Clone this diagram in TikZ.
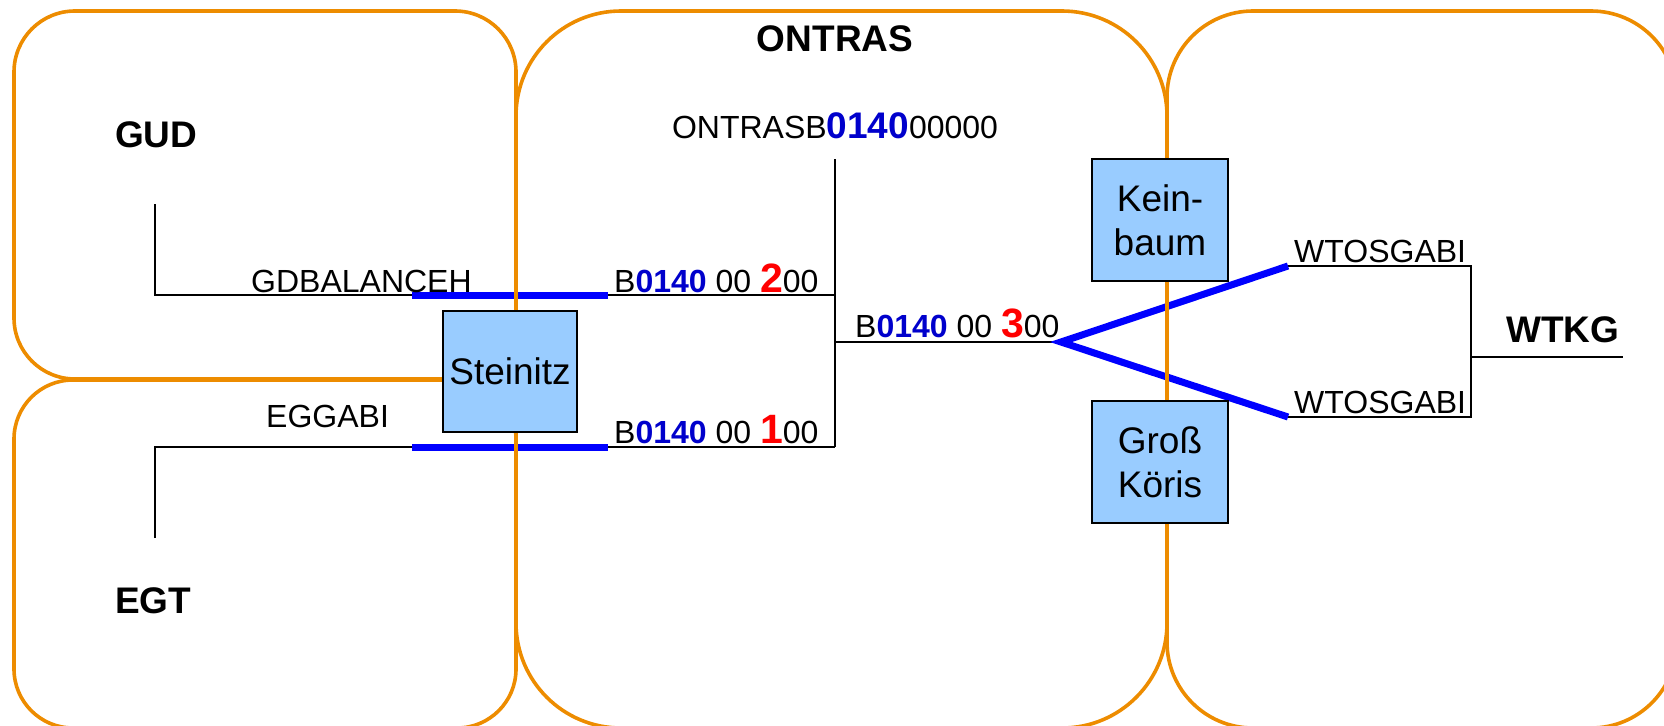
\documentclass[tikz,border=0pt]{standalone}
\usepackage{fontspec}
\setmainfont{Liberation Sans}
\usepackage{tikz}
\tikzstyle{zone} = [draw=border,line width=3.6pt]
\tikzstyle{point} = [rectangle,draw,fill=station,line width=1.6pt,inner sep=0pt,minimum width=136pt,minimum height=122pt,align=center,font=\fontsize{37}{44}\selectfont]
\tikzstyle{lbl} = [inner sep=0pt,font=\fontsize{32}{38}\selectfont]
\tikzstyle{tso} = [inner sep=0pt,font=\fontsize{37}{44}\selectfont\bfseries]
\tikzstyle{wire} = [line width=1.3pt]
\tikzstyle{bar} = [line width=7pt,draw=blue]
\usepackage{color}
\definecolor{border}{rgb}{0.93, 0.55, 0.0}
\definecolor{station}{rgb}{0.6, 0.8, 1.0}
\definecolor{code}{rgb}{0.0, 0.0, 0.8}
\newcommand{\balgroup}[1]{B{\bfseries\color{code}0140} 00 {\fontsize{41}{44}\selectfont\bfseries\color{red}#1}00}

\begin{document}
\begin{tikzpicture}[x=1pt,y=-1pt]

	\useasboundingbox (0,0) rectangle (1664,725);
	\clip (0,0) rectangle (1664,725);

	\coordinate (gudend) at (155,204);
	\coordinate (egtend) at (155,538);
	\coordinate (hubtop) at (835,159);
	\coordinate (hub2) at (835,295);
	\coordinate (hub1) at (835,447);
	\coordinate (hub3) at (835,342);
	\coordinate (fork) at (1061,342);
	\coordinate (wtup) at (1288,266);
	\coordinate (wtlow) at (1288,417);
	\coordinate (wtupr) at (1471,266);
	\coordinate (wtlowr) at (1471,417);
	\coordinate (wtmid) at (1471,357);
	\coordinate (wtend) at (1623,357);

	\draw[wire] (gudend) |- (hub2);
	\draw[wire] (egtend) |- (hub1);
	\draw[wire] (hubtop) -- (hub1);
	\draw[wire] (hub3) -- (fork);
	\draw[wire] (wtup) -- (wtupr) -- (wtlowr) -- (wtlow);
	\draw[wire] (wtmid) -- (wtend);

	\draw[bar] (412,295) -- (608,295);
	\draw[bar] (412,447) -- (608,447);
	\draw[bar] (wtup) -- (fork) -- (wtlow);

	\draw[zone,rounded corners=61pt] (14,11) rectangle (516,379);
	\draw[zone,rounded corners=59pt] (14,380) rectangle (516,728);
	\draw[zone,rounded corners=105pt] (516,11) rectangle (1167,728);
	\draw[zone,rounded corners=86pt] (1167,11) rectangle (1677,728);

	\node[point,minimum width=134pt,minimum height=121pt](stz) at (510,371.5) {Steinitz};
	\node[point](kb) at (1160,220) {Kein-\\baum};
	\node[point](gk) at (1160,462) {Groß\\Köris};

	\node[tso,anchor=base west](gud) at (115,147) {GUD};
	\node[tso,anchor=base west](egt) at (115,613) {EGT};
	\node[tso,anchor=base](ontras) at (835,52) {ONTRAS};
	\node[tso,anchor=base west](wtkg) at (1506,342) {WTKG};

	\node[lbl,anchor=base](acct) at (835,138) {ONTRASB{\fontsize{37}{44}\selectfont\bfseries\color{code}0140}00000};
	\node[lbl,anchor=base west](gdb) at (251,292) {GDBALANCEH};
	\node[lbl,anchor=base west](egg) at (266,427) {EGGABI};
	\node[lbl,anchor=base west](bg2) at (614,292) {\balgroup{2}};
	\node[lbl,anchor=base west](bg1) at (614,443) {\balgroup{1}};
	\node[lbl,anchor=base west](bg3) at (855,337) {\balgroup{3}};
	\node[lbl,anchor=base west](wt1) at (1294,262) {WTOSGABI};
	\node[lbl,anchor=base west](wt2) at (1294,413) {WTOSGABI};

\end{tikzpicture}
\end{document}
